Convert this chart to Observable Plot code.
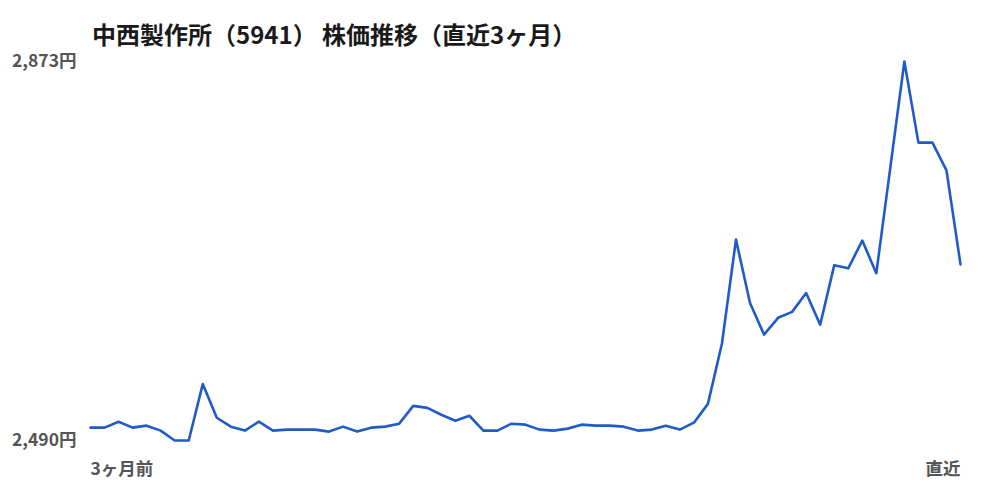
<!DOCTYPE html>
<html>
<head>
<meta charset="utf-8">
<script src="https://cdn.jsdelivr.net/npm/d3@7"></script>
<script src="https://cdn.jsdelivr.net/npm/@observablehq/plot@0.6"></script>
<style>
  html, body { margin: 0; padding: 0; background: #fff; }
  #wrap { position: relative; width: 1000px; height: 500px; font-family: "Noto Sans CJK JP", "Noto Sans", sans-serif; }
  #title { position: absolute; left: 92px; top: 18px; line-height: 32px; font-size: 24px; font-weight: bold; color: #1a1a1a; white-space: nowrap; }
  #chart { position: absolute; left: 0; top: 0; }
</style>
</head>
<body>
<div id="wrap">
  <div id="chart"></div>
  <div id="title">中西製作所（5941） 株価推移（直近3ヶ月）</div>
</div>
<script>
const titleText = "中西製作所（5941） 株価推移（直近3ヶ月）";
const prices = [
  2503, 2503, 2509, 2503, 2505, 2500, 2490, 2490, 2547, 2513,
  2504, 2500, 2509, 2500, 2501, 2501, 2501, 2499, 2504, 2499,
  2503, 2504, 2507, 2525, 2523, 2516, 2510, 2515, 2500, 2500,
  2507, 2506, 2501, 2500, 2502, 2506, 2505, 2505, 2504, 2500,
  2501, 2505, 2501, 2508, 2527, 2588, 2693, 2629, 2597, 2614,
  2620, 2639, 2607, 2667, 2664, 2692, 2659, 2766, 2873, 2791,
  2791, 2763, 2668
];
const yTicks = [2490, 2873];
const xStartLabel = "3ヶ月前";
const xEndLabel = "直近";

const data = prices.map((v, i) => ({i, v}));
const last = prices.length - 1;

const chart = Plot.plot({
  width: 1000,
  height: 500,
  marginTop: 61,
  marginBottom: 60,
  marginLeft: 90,
  marginRight: 40,
  style: {fontFamily: '"Noto Sans CJK JP", "Noto Sans", sans-serif', background: "transparent"},
  x: {domain: [0, last], axis: null},
  y: {domain: [yTicks[0], yTicks[1]], axis: null},
  marks: [
    Plot.axisY({
      ticks: yTicks,
      tickSize: 0,
      tickPadding: 14,
      tickFormat: d => d3.format(",")(d) + "円",
      fontSize: 17.5,
      fontWeight: "bold",
      fill: "#555",
      label: null
    }),
    Plot.line(data, {x: "i", y: "v", stroke: "#1f5bc9", strokeWidth: 2.6, strokeLinejoin: "round"}),
    Plot.text([xStartLabel], {x: () => 0, frameAnchor: "bottom", dy: 34, text: d => d, textAnchor: "start", fontSize: 17.5, fontWeight: "bold", fill: "#555"}),
    Plot.text([xEndLabel], {x: () => last, frameAnchor: "bottom", dy: 34, text: d => d, textAnchor: "end", fontSize: 17.5, fontWeight: "bold", fill: "#555"})
  ]
});
document.getElementById("chart").appendChild(chart);
</script>
</body>
</html>
